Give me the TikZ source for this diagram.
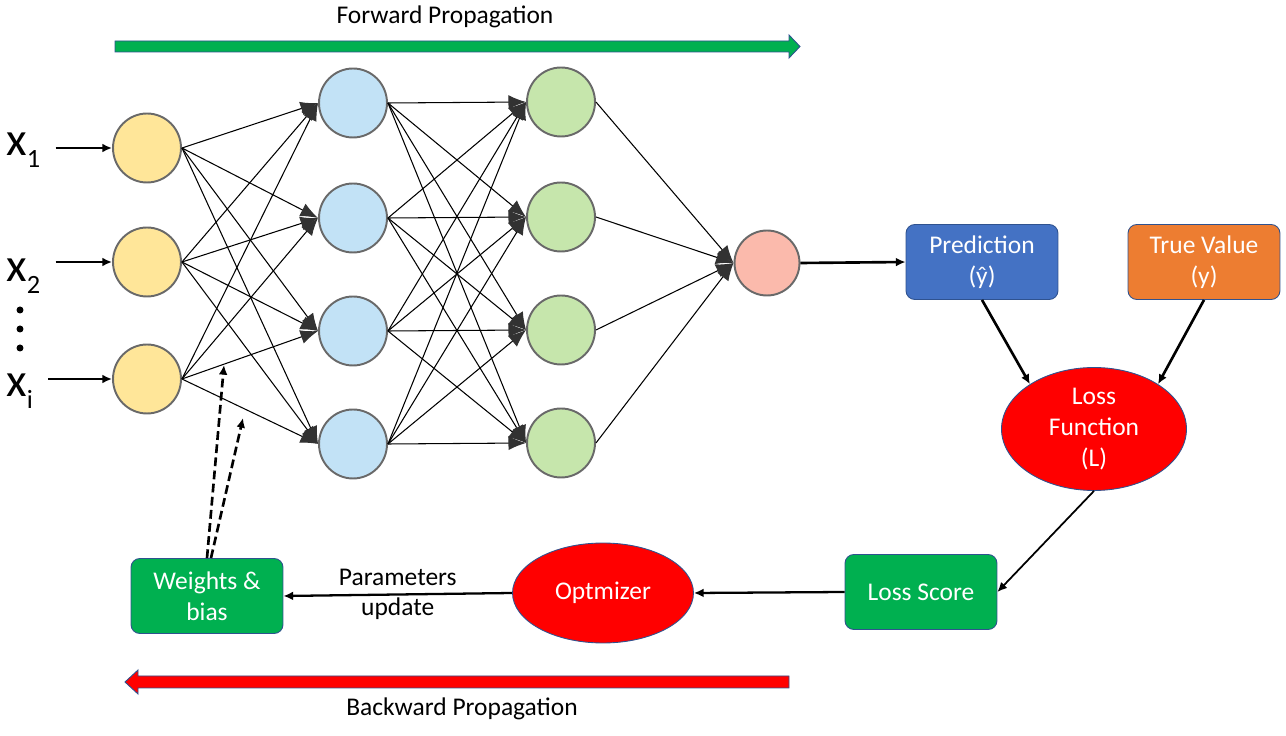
\documentclass[tikz,border=0pt]{standalone}
\usepackage{fontspec}
\setmainfont{Carlito}
\usetikzlibrary{arrows.meta, shapes.geometric}

\definecolor{inyellow}{RGB}{255,230,153}
\definecolor{hidblue}{RGB}{194,226,246}
\definecolor{hidgreen}{RGB}{198,230,172}
\definecolor{outpink}{RGB}{251,186,172}
\definecolor{nodegray}{RGB}{105,105,105}
\definecolor{headgray}{RGB}{50,50,50}
\definecolor{predblue}{RGB}{68,114,196}
\definecolor{trueorange}{RGB}{237,125,49}
\definecolor{lossred}{RGB}{255,0,0}
\definecolor{okgreen}{RGB}{0,176,80}
\definecolor{edgeblue}{RGB}{47,82,143}

\newcommand{\xlab}[1]{x\raisebox{-6.5pt}{\fontsize{15}{15}\selectfont #1}}

\begin{document}
\begin{tikzpicture}[x = 0.02cm, y = -0.02cm,
	font = \fontsize{14.5}{17.5}\selectfont,
	neuron/.style = {ellipse, draw = nodegray, line width = 1.1pt, minimum width = 1.36cm, minimum height = 1.38cm, inner sep = 0pt},
	wire/.style = {line width = 0.6pt, -{Latex[length = 10pt, width = 8pt, color = headgray]}},
	flow/.style = {line width = 1.3pt, -{Latex[length = 5.5pt, width = 5pt]}},
	box/.style = {rectangle, rounded corners = 5pt, draw = edgeblue, line width = 0.5pt, text = white, align = center, minimum width = 3.04cm, minimum height = 1.5cm},
	blob/.style = {ellipse, fill = lossred, draw = edgeblue, line width = 0.5pt, text = white, align = center, inner sep = 0pt}]

\useasboundingbox (0,0) rectangle (1286,736);

% forward and backward bands
\node (fwdlab) at (445, 17) {Forward Propagation};
\filldraw[fill = okgreen, draw = edgeblue, line width = 0.5pt] (115,41) -- (789,41) -- (789,35) -- (800,46.5) -- (789,58) -- (789,52) -- (115,52) -- cycle;
\node (bwdlab) at (462, 709) {Backward Propagation};
\filldraw[fill = lossred, draw = edgeblue, line width = 0.5pt] (789,676) -- (138,676) -- (138,670) -- (125,682) -- (138,694) -- (138,688) -- (789,688) -- cycle;

% layers
\foreach \y[count = \i] in {148, 262, 379} {
	\node[neuron, fill = inyellow] (in\i) at (147, \y) {};
}
\foreach \y[count = \i] in {103, 218, 331, 444} {
	\node[neuron, fill = hidblue] (h\i) at (353, \y) {};
	\node[neuron, fill = hidgreen] (g\i) at (561, \y - 1) {};
}
\node[neuron, fill = outpink, minimum width = 1.3cm, minimum height = 1.3cm] (out) at (767, 263) {};

\foreach \i in {1, 2, 3} {
	\foreach \j in {1, ..., 4} \draw[wire] (in\i.east) -- (h\j.west);
}
\foreach \i in {1, ..., 4} {
	\foreach \j in {1, ..., 4} \draw[wire] (h\i.east) -- (g\j.west);
	\draw[wire] (g\i.east) -- (out.west);
}

% inputs
\foreach \s/\y[count = \i] in {1/156, 2/282, i/397} {
	\node[anchor = base west, inner sep = 0pt, font = \fontsize{27}{27}\selectfont] (x\i) at (6, \y) {\xlab{\s}};
	\draw[flow, line width = 1.5pt, shorten <= 0.3cm] (x\i.east |- in\i.west) -- (in\i.west);
}
\foreach \y in {310, 329, 348} \fill (20, \y) circle[radius = 0.07cm];

% loss side
\node[box, fill = predblue] (pred) at (982, 262) {Prediction\\(\^{y})};
\node[box, fill = trueorange] (true) at (1204, 262) {True Value\\(y)};
\node[blob, minimum width = 3.7cm, minimum height = 2.46cm] (loss) at (1094, 429) {Loss\\Function\\(L)};
\node[box, fill = okgreen] (score) at (921, 592) {Loss Score};
\node[blob, minimum width = 3.62cm, minimum height = 2cm] (opt) at (603, 593) {Optmizer};
\node[box, fill = okgreen] (wb) at (207, 596) {Weights \&\\bias};

\draw[flow, line width = 1.5pt] (out.east) -- (pred.west);
\draw[flow, line width = 1.5pt] (pred.south) -- (loss.145);
\draw[flow, line width = 1.5pt] (true.south) -- (loss.35);
\draw[flow, line width = 1pt] (loss.south) -- (score.east);
\draw[flow] (score.west) -- (opt.east);
\draw[flow] (opt.west) -- node[align = center, text = black] {Parameters\\update} (wb.east);

% updates
\coordinate (wt1) at (224, 365);
\coordinate (wt2) at (243, 418);
\draw[flow, line width = 1.5pt, dash pattern = on 5pt off 2.5pt] (wb.north) -- (wt1);
\draw[flow, line width = 1.5pt, dash pattern = on 5pt off 2.5pt] ([xshift = 0.08cm]wb.north) -- (wt2);

\end{tikzpicture}
\end{document}
